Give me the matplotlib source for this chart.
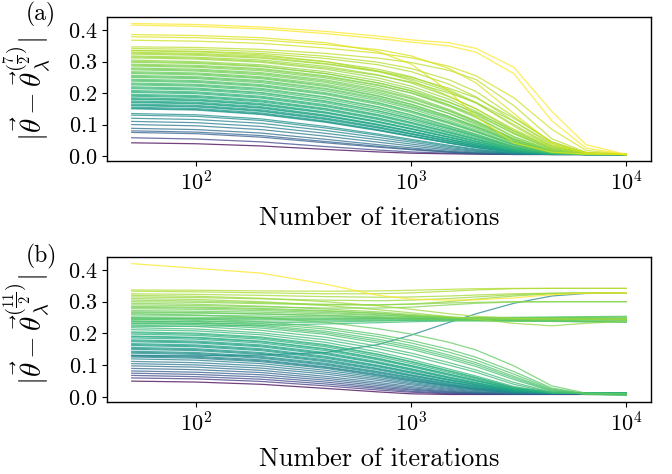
import numpy as np
import matplotlib
matplotlib.use("Agg")
import matplotlib.pyplot as plt
from matplotlib.colors import PowerNorm

plt.rcParams['font.family'] = 'serif'
plt.rcParams['font.serif'] = ['cmr10']
plt.rcParams['mathtext.fontset'] = 'cm'
plt.rcParams['axes.formatter.use_mathtext'] = True
plt.rcParams['font.size'] = 16

iters = [50, 100, 200, 400, 700, 1000, 1500, 2000, 3000, 4500, 6500, 10000]

# panel (a): distance to theta_lambda^(7/2)
dist_a = [
    [.421, .418, .410, .396, .381, .369, .360, .342, .282, .142, .036, .005],
    [.416, .412, .404, .389, .373, .362, .350, .330, .262, .112, .025, .005],
    [.386, .383, .376, .360, .332, .292, .205, .125, .042, .012, .006, .005],
    [.379, .376, .369, .354, .338, .318, .278, .232, .135, .040, .010, .005],
    [.368, .365, .358, .343, .327, .312, .285, .255, .185, .085, .018, .005],
    [.347, .345, .339, .326, .311, .297, .272, .243, .160, .055, .012, .005],
    [.342, .339, .332, .317, .298, .278, .242, .205, .125, .045, .010, .005],
    [.336, .333, .326, .310, .290, .268, .228, .188, .110, .035, .009, .005],
    [.335, .331, .322, .300, .270, .240, .190, .150, .085, .030, .009, .005],
    [.330, .326, .318, .300, .276, .252, .210, .170, .095, .030, .008, .005],
    [.327, .323, .314, .294, .270, .250, .215, .185, .120, .045, .010, .005],
    [.324, .320, .311, .292, .268, .245, .205, .168, .100, .032, .008, .005],
    [.318, .314, .305, .285, .258, .232, .188, .150, .080, .025, .007, .005],
    [.315, .311, .301, .280, .256, .235, .200, .170, .110, .040, .009, .005],
    [.312, .308, .298, .276, .248, .222, .180, .142, .075, .022, .007, .005],
    [.305, .300, .290, .268, .240, .214, .172, .135, .070, .020, .006, .005],
    [.301, .297, .286, .262, .232, .208, .170, .138, .080, .026, .007, .005],
    [.298, .294, .284, .262, .233, .206, .162, .125, .062, .018, .006, .005],
    [.292, .288, .278, .255, .226, .200, .158, .122, .060, .017, .006, .005],
    [.289, .285, .275, .252, .224, .200, .162, .130, .072, .022, .006, .005],
    [.286, .282, .271, .248, .218, .190, .148, .112, .055, .015, .006, .005],
    [.280, .276, .265, .242, .212, .185, .145, .110, .052, .014, .006, .005],
    [.277, .273, .262, .238, .208, .182, .142, .108, .054, .016, .006, .005],
    [.274, .270, .258, .234, .203, .175, .135, .100, .048, .013, .006, .005],
    [.268, .264, .252, .228, .198, .172, .135, .104, .052, .015, .006, .005],
    [.265, .261, .249, .224, .192, .165, .126, .095, .046, .013, .006, .005],
    [.262, .258, .246, .221, .190, .163, .125, .093, .043, .012, .006, .005],
    [.256, .252, .240, .215, .185, .158, .122, .092, .045, .013, .006, .005],
    [.253, .249, .237, .212, .181, .155, .118, .088, .042, .012, .006, .005],
    [.250, .246, .233, .207, .176, .150, .112, .083, .038, .011, .006, .005],
    [.244, .240, .227, .201, .170, .143, .107, .079, .036, .011, .006, .005],
    [.241, .237, .224, .198, .168, .142, .106, .078, .036, .011, .006, .005],
    [.238, .234, .221, .195, .164, .138, .103, .076, .035, .011, .006, .005],
    [.232, .228, .215, .188, .157, .131, .096, .070, .031, .010, .006, .005],
    [.229, .225, .212, .186, .155, .129, .094, .068, .030, .010, .006, .005],
    [.226, .222, .208, .181, .150, .124, .090, .065, .029, .010, .006, .005],
    [.220, .216, .202, .175, .144, .119, .087, .063, .028, .009, .006, .005],
    [.217, .213, .200, .173, .143, .118, .086, .062, .027, .009, .006, .005],
    [.214, .210, .196, .169, .138, .113, .081, .058, .025, .009, .006, .005],
    [.208, .204, .190, .163, .132, .107, .076, .054, .023, .008, .005, .005],
    [.205, .201, .187, .160, .130, .106, .076, .054, .023, .008, .005, .005],
    [.202, .198, .184, .157, .127, .103, .073, .052, .022, .008, .005, .005],
    [.196, .192, .178, .151, .121, .097, .068, .048, .020, .008, .005, .005],
    [.193, .189, .175, .149, .119, .096, .068, .047, .020, .008, .005, .005],
    [.190, .186, .172, .146, .116, .093, .065, .045, .019, .007, .005, .005],
    [.185, .181, .167, .140, .110, .087, .060, .041, .017, .007, .005, .005],
    [.182, .178, .164, .138, .109, .087, .060, .041, .017, .007, .005, .005],
    [.180, .176, .162, .136, .107, .085, .059, .040, .017, .007, .005, .005],
    [.175, .171, .157, .130, .101, .079, .054, .036, .015, .007, .005, .005],
    [.172, .168, .154, .128, .099, .078, .053, .036, .015, .007, .005, .005],
    [.170, .166, .152, .126, .098, .077, .052, .035, .015, .007, .005, .005],
    [.165, .161, .147, .121, .093, .072, .048, .032, .014, .006, .005, .005],
    [.162, .158, .144, .118, .091, .070, .047, .031, .013, .006, .005, .005],
    [.160, .156, .142, .116, .089, .069, .046, .031, .013, .006, .005, .005],
    [.155, .151, .137, .111, .084, .064, .042, .028, .012, .006, .005, .005],
    [.152, .148, .134, .109, .082, .063, .041, .027, .012, .006, .005, .005],
    [.150, .146, .132, .107, .081, .062, .041, .027, .012, .006, .005, .005],
    [.135, .131, .118, .094, .070, .053, .034, .022, .010, .006, .005, .005],
    [.130, .126, .113, .089, .066, .049, .031, .020, .009, .006, .005, .005],
    [.120, .116, .104, .081, .059, .044, .027, .017, .008, .006, .005, .005],
    [.110, .106, .094, .072, .052, .038, .023, .015, .008, .005, .005, .005],
    [.100, .096, .084, .063, .044, .032, .019, .012, .007, .005, .005, .005],
    [.088, .084, .073, .053, .036, .026, .015, .010, .006, .005, .005, .005],
    [.080, .076, .065, .046, .031, .022, .013, .009, .006, .005, .005, .005],
    [.075, .071, .060, .042, .028, .020, .012, .008, .006, .005, .005, .005],
    [.058, .054, .045, .030, .019, .013, .009, .007, .005, .005, .005, .005],
    [.042, .039, .032, .021, .013, .009, .007, .006, .005, .005, .005, .005],
]

# panel (b): distance to theta_lambda^(11/2)
dist_b = [
    [.420, .405, .390, .355, .320, .308, .305, .306, .312, .322, .327, .328],
    [.337, .336, .334, .333, .334, .336, .339, .341, .342, .342, .342, .342],
    [.333, .331, .328, .325, .325, .328, .333, .337, .341, .342, .342, .342],
    [.325, .323, .320, .316, .314, .315, .318, .321, .325, .327, .328, .328],
    [.315, .313, .309, .305, .303, .305, .310, .315, .322, .326, .328, .328],
    [.305, .302, .297, .292, .290, .293, .300, .308, .318, .325, .327, .328],
    [.130, .130, .132, .140, .165, .195, .235, .262, .295, .318, .326, .328],
    [.300, .298, .294, .290, .290, .292, .296, .298, .300, .300, .300, .300],
    [.290, .288, .284, .280, .280, .283, .290, .295, .299, .300, .300, .300],
    [.320, .317, .311, .300, .287, .276, .262, .254, .248, .246, .245, .245],
    [.295, .292, .286, .277, .268, .260, .252, .248, .246, .245, .245, .245],
    [.285, .283, .279, .272, .264, .257, .250, .246, .244, .243, .243, .243],
    [.282, .280, .276, .270, .263, .256, .250, .247, .246, .246, .246, .246],
    [.278, .276, .272, .266, .259, .253, .248, .245, .244, .244, .244, .244],
    [.272, .270, .267, .262, .257, .253, .250, .249, .249, .250, .251, .252],
    [.268, .266, .262, .256, .250, .246, .242, .240, .239, .238, .238, .238],
    [.265, .264, .261, .257, .253, .250, .248, .248, .249, .250, .251, .252],
    [.258, .257, .255, .252, .250, .248, .247, .247, .247, .248, .248, .248],
    [.252, .251, .250, .248, .247, .246, .245, .245, .245, .245, .245, .245],
    [.248, .247, .246, .245, .246, .247, .249, .250, .251, .252, .253, .254],
    [.245, .245, .245, .245, .245, .245, .244, .244, .243, .242, .240, .240],
    [.238, .238, .239, .240, .241, .242, .242, .242, .241, .240, .238, .238],
    [.230, .231, .233, .236, .239, .241, .242, .242, .241, .239, .237, .236],
    [.222, .223, .226, .230, .234, .237, .239, .240, .239, .238, .237, .236],
    [.310, .307, .300, .288, .275, .265, .253, .245, .232, .224, .232, .238],
    [.262, .258, .250, .235, .215, .198, .172, .148, .098, .035, .012, .010],
    [.250, .246, .237, .220, .197, .178, .150, .125, .080, .028, .010, .010],
    [.245, .241, .231, .214, .190, .170, .141, .116, .072, .025, .010, .005],
    [.240, .236, .226, .207, .182, .162, .132, .108, .065, .022, .010, .010],
    [.236, .232, .222, .202, .176, .156, .126, .102, .060, .020, .008, .005],
    [.232, .228, .217, .197, .170, .150, .120, .096, .055, .018, .010, .010],
    [.226, .222, .210, .188, .160, .138, .108, .085, .046, .015, .010, .010],
    [.218, .214, .202, .180, .152, .130, .100, .078, .040, .014, .010, .010],
    [.212, .208, .196, .172, .142, .118, .088, .066, .033, .014, .013, .013],
    [.205, .201, .189, .165, .135, .112, .083, .062, .030, .014, .013, .013],
    [.202, .198, .186, .162, .133, .110, .081, .060, .029, .013, .013, .013],
    [.198, .194, .182, .158, .128, .105, .077, .057, .028, .014, .013, .013],
    [.192, .188, .176, .152, .122, .099, .072, .053, .026, .014, .013, .013],
    [.190, .186, .174, .150, .120, .098, .071, .052, .026, .013, .013, .013],
    [.186, .182, .170, .146, .117, .095, .068, .050, .025, .014, .013, .013],
    [.180, .176, .164, .140, .111, .089, .063, .046, .023, .013, .013, .013],
    [.177, .173, .161, .137, .108, .087, .061, .044, .022, .013, .013, .013],
    [.174, .170, .158, .134, .106, .084, .059, .043, .022, .013, .013, .013],
    [.168, .164, .152, .128, .100, .079, .055, .040, .020, .013, .013, .013],
    [.165, .161, .149, .125, .098, .077, .054, .039, .020, .013, .013, .013],
    [.162, .158, .146, .122, .095, .075, .052, .038, .019, .013, .013, .013],
    [.156, .152, .140, .117, .090, .070, .048, .035, .018, .013, .013, .013],
    [.153, .149, .137, .114, .088, .068, .047, .034, .018, .013, .013, .013],
    [.150, .146, .134, .111, .085, .066, .045, .033, .017, .013, .013, .013],
    [.144, .140, .128, .106, .080, .062, .042, .030, .016, .013, .013, .013],
    [.141, .137, .125, .103, .078, .060, .040, .029, .016, .013, .013, .013],
    [.138, .134, .122, .100, .075, .057, .038, .027, .015, .013, .013, .013],
    [.132, .128, .117, .095, .071, .054, .036, .026, .015, .013, .013, .013],
    [.129, .125, .114, .093, .069, .052, .035, .025, .015, .013, .013, .013],
    [.126, .122, .111, .090, .066, .050, .033, .024, .014, .013, .013, .013],
    [.120, .116, .105, .084, .062, .046, .030, .022, .014, .013, .013, .013],
    [.112, .108, .098, .078, .057, .042, .027, .020, .013, .012, .012, .012],
    [.105, .101, .091, .072, .052, .038, .024, .017, .012, .011, .011, .011],
    [.098, .094, .084, .065, .046, .033, .021, .015, .011, .010, .010, .010],
    [.090, .086, .077, .059, .041, .029, .018, .013, .010, .010, .010, .010],
    [.082, .078, .070, .053, .036, .025, .016, .012, .010, .010, .010, .010],
    [.075, .071, .063, .047, .031, .022, .014, .011, .010, .010, .010, .010],
    [.068, .064, .056, .041, .027, .018, .012, .010, .009, .009, .009, .009],
    [.060, .057, .049, .035, .022, .015, .010, .009, .009, .009, .009, .009],
    [.050, .047, .040, .027, .016, .010, .008, .008, .008, .008, .008, .008],
]

panels = [("(a)", dist_a, r'$|\vec{\theta} - \vec{\theta}_\lambda^{(\frac{7}{2})}|$', 1.02),
          ("(b)", dist_b, r'$|\vec{\theta} - \vec{\theta}_\lambda^{(\frac{11}{2})}|$', 1.005)]

fig = plt.figure(figsize=(6.72, 4.74), dpi=100)
rects = [[107/672, 1-161/474, 544/672, 144/474],
         [107/672, 1-402/474, 544/672, 145/474]]

for rect, (tag, dist, ylab, ty) in zip(rects, panels):
    ax = fig.add_axes(rect)
    starts = [d[0] for d in dist]
    norm = PowerNorm(0.5, vmin=min(starts), vmax=max(starts))
    # draw low curves first so the upper ones sit on top
    for d in sorted(dist, key=lambda r: r[0]):
        ax.plot(iters, d, color=plt.cm.viridis(norm(d[0])), lw=0.9, alpha=0.75)
    ax.set_xscale('log')
    ax.minorticks_off()
    ax.set_yticks([0.0, 0.1, 0.2, 0.3, 0.4])
    ax.set_ylabel(ylab, fontsize=21)
    ax.yaxis.set_label_coords(-0.098, 0.5)
    ax.set_xlabel('Number of iterations', fontsize=19, labelpad=8)
    ax.text(-0.121, ty, tag, transform=ax.transAxes, ha='center', va='center', fontsize=17)
    for s in ax.spines.values():
        s.set_linewidth(1.0)

fig.savefig('out.png', dpi=100)
